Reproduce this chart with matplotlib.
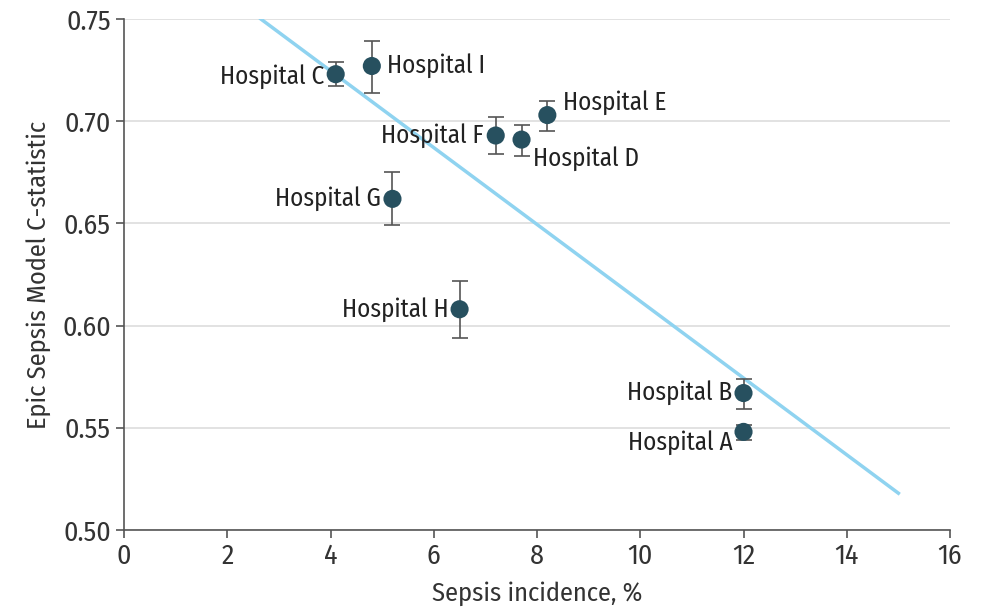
import matplotlib
matplotlib.use("Agg")
import matplotlib.pyplot as plt

hospitals = ["Hospital A", "Hospital B", "Hospital C", "Hospital D", "Hospital E",
             "Hospital F", "Hospital G", "Hospital H", "Hospital I"]
incidence = [12.0, 12.0, 4.1, 7.7, 8.2, 7.2, 5.2, 6.5, 4.8]
cstat = [0.548, 0.567, 0.723, 0.691, 0.703, 0.693, 0.662, 0.608, 0.727]
ci_low = [0.544, 0.559, 0.717, 0.683, 0.695, 0.684, 0.649, 0.594, 0.714]
ci_high = [0.5515, 0.574, 0.729, 0.698, 0.710, 0.702, 0.675, 0.622, 0.739]

fit_x = [2.65, 15.0]
fit_y = [0.75, 0.518]

# label placement: (dx points, dy points, ha, va)
label_pos = {
    "Hospital A": (-8, -8, "right", "center"),
    "Hospital B": (-8, 0, "right", "center"),
    "Hospital C": (-8, -2, "right", "center"),
    "Hospital D": (8, -14, "left", "center"),
    "Hospital E": (11, 9, "left", "center"),
    "Hospital F": (-9, 0, "right", "center"),
    "Hospital G": (-8, 0, "right", "center"),
    "Hospital H": (-8, 0, "right", "center"),
    "Hospital I": (11, 0, "left", "center"),
}

plt.rcParams['font.family'] = ['Fira Sans Condensed', 'DejaVu Sans']
fig = plt.figure(figsize=(9.86, 6.13), dpi=100)
ax = fig.add_axes([0.1258, 0.1354, 0.8377, 0.8336])

ax.set_xlim(0, 16)
ax.set_ylim(0.50, 0.75)
ax.set_yticks([0.50, 0.55, 0.60, 0.65, 0.70, 0.75])
ax.set_xticks(range(0, 17, 2))
ax.grid(axis='y', color='#dddddd', linewidth=1.2, zorder=0)
ax.set_axisbelow(True)

ax.plot(fit_x, fit_y, color='#8fd3f0', linewidth=2.5, zorder=2)

yerr = [[c - l for c, l in zip(cstat, ci_low)], [h - c for c, h in zip(cstat, ci_high)]]
ax.errorbar(incidence, cstat, yerr=yerr, fmt='none', ecolor='#555555',
            elinewidth=1.2, capsize=6, capthick=1.2, zorder=3)
ax.scatter(incidence, cstat, s=170, color='#27505f', zorder=4, edgecolor='none')

for name, x, y in zip(hospitals, incidence, cstat):
    dx, dy, ha, va = label_pos[name]
    ax.annotate(name, (x, y), xytext=(dx, dy), textcoords='offset points',
                ha=ha, va=va, fontsize=18, color='#222222')

for s in ['top', 'right']:
    ax.spines[s].set_visible(False)
for s in ['left', 'bottom']:
    ax.spines[s].set_color('#555555')
    ax.spines[s].set_linewidth(1.2)
ax.set_yticklabels(["0.50", "0.55", "0.60", "0.65", "0.70", "0.75"])
ax.tick_params(colors='#555555', labelcolor='#333333', labelsize=20, length=6, width=1.2)
ax.set_xlabel("Sepsis incidence, %", fontsize=19, color='#333333', labelpad=8)
ax.set_ylabel("Epic Sepsis Model C-statistic", fontsize=19, color='#333333', labelpad=8)

fig.savefig("out.png", dpi=100)
